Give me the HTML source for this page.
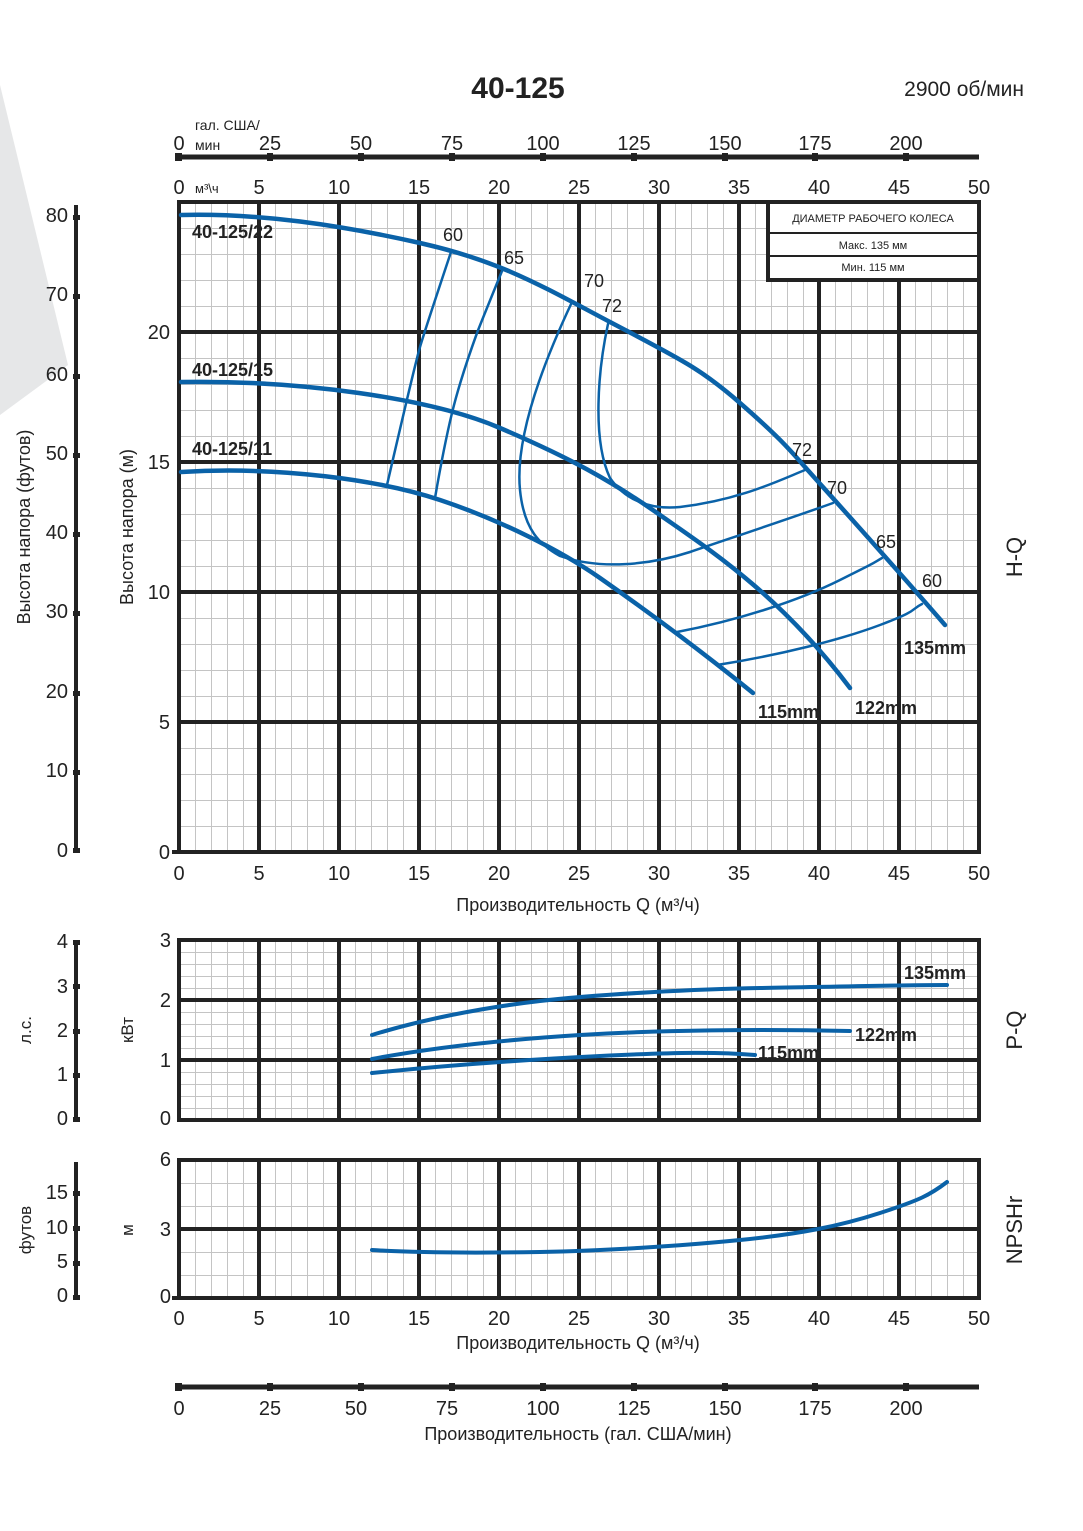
<!DOCTYPE html>
<html><head><meta charset="utf-8"><style>
html,body{margin:0;padding:0;background:#fff}
svg{display:block}
text{font-family:"Liberation Sans",sans-serif;fill:#222}
</style></head><body>
<svg width="1083" height="1531" viewBox="0 0 1083 1531" xmlns="http://www.w3.org/2000/svg">
<defs>
<pattern id="g1" x="179" y="202" width="16" height="26" patternUnits="userSpaceOnUse"><path d="M0 0V26M0 0H16" stroke="#c4c4c4" stroke-width="2" fill="none"/></pattern>
<pattern id="g2" x="179" y="940" width="16" height="12" patternUnits="userSpaceOnUse"><path d="M0 0V12M0 0H16" stroke="#c4c4c4" stroke-width="2" fill="none"/></pattern>
<pattern id="g3" x="179" y="1160" width="16" height="23" patternUnits="userSpaceOnUse"><path d="M0 0V23M0 0H16" stroke="#c4c4c4" stroke-width="2" fill="none"/></pattern>
</defs>
<polygon points="0,85 68,365 0,415" fill="#e6e7e8"/>

<text x="518" y="98" font-size="30" font-weight="bold" text-anchor="middle">40-125</text>
<text x="1024" y="96" font-size="21" text-anchor="end">2900 об/мин</text>

<g stroke="#222" stroke-width="5" fill="#222">
<line x1="176" y1="157" x2="979" y2="157"/>
<line x1="176" y1="1387" x2="979" y2="1387"/>
</g>
<g fill="#222">
<rect x="175" y="153" width="7" height="8"/><rect x="267" y="153" width="6" height="8"/><rect x="358" y="153" width="6" height="8"/><rect x="449" y="153" width="6" height="8"/><rect x="540" y="153" width="6" height="8"/><rect x="631" y="153" width="6" height="8"/><rect x="722" y="153" width="6" height="8"/><rect x="812" y="153" width="6" height="8"/><rect x="903" y="153" width="6" height="8"/>
<rect x="175" y="1383" width="7" height="8"/><rect x="267" y="1383" width="6" height="8"/><rect x="358" y="1383" width="6" height="8"/><rect x="449" y="1383" width="6" height="8"/><rect x="540" y="1383" width="6" height="8"/><rect x="631" y="1383" width="6" height="8"/><rect x="722" y="1383" width="6" height="8"/><rect x="812" y="1383" width="6" height="8"/><rect x="903" y="1383" width="6" height="8"/>
</g>
<g font-size="20" text-anchor="middle">
<text x="179" y="150">0</text><text x="270" y="150">25</text><text x="361" y="150">50</text><text x="452" y="150">75</text><text x="543" y="150">100</text><text x="634" y="150">125</text><text x="725" y="150">150</text><text x="815" y="150">175</text><text x="906" y="150">200</text>
<text x="179" y="1415">0</text><text x="270" y="1415">25</text><text x="356" y="1415">50</text><text x="447" y="1415">75</text><text x="543" y="1415">100</text><text x="634" y="1415">125</text><text x="725" y="1415">150</text><text x="815" y="1415">175</text><text x="906" y="1415">200</text>
</g>
<text x="195" y="130" font-size="14">гал. США/</text>
<text x="195" y="150" font-size="14">мин</text>
<text x="195" y="193" font-size="13">м³\ч</text>
<g font-size="20" text-anchor="middle">
<text x="179" y="194">0</text><text x="259" y="194">5</text><text x="339" y="194">10</text><text x="419" y="194">15</text><text x="499" y="194">20</text><text x="579" y="194">25</text><text x="659" y="194">30</text><text x="739" y="194">35</text><text x="819" y="194">40</text><text x="899" y="194">45</text><text x="979" y="194">50</text>
</g>

<rect x="179" y="202" width="800" height="650" fill="url(#g1)"/>
<g stroke="#222" stroke-width="4">
<path d="M179 200V854M259 202V852M339 202V852M419 202V852M499 202V852M579 202V852M659 202V852M739 202V852M819 202V852M899 202V852M979 202V854"/>
<path d="M177 202H981M177 332H981M177 462H981M177 592H981M177 722H981M172 852H981"/>
</g>
<rect x="768" y="202" width="211" height="78" fill="#fff" stroke="#222" stroke-width="4"/>
<path d="M770 233H977M770 256H977" stroke="#222" stroke-width="2"/>
<text x="873" y="222" font-size="11" text-anchor="middle">ДИАМЕТР РАБОЧЕГО КОЛЕСА</text>
<text x="873" y="249" font-size="11" text-anchor="middle">Макс. 135 мм</text>
<text x="873" y="271" font-size="11" text-anchor="middle">Мин. 115 мм</text>

<g fill="none" stroke="#0a62a8" stroke-linecap="round" stroke-linejoin="round">
<path stroke-width="4.5" d="M181 215 C260 213 340 225 420 243 S540 285 610 322 S700 368 740 403 S790 450 805 467 S880 550 945 625"/>
<path stroke-width="4.5" d="M181 382 C300 380 430 398 500 428 S610 480 660 515 S780 595 850 688"/>
<path stroke-width="4.5" d="M181 472 C280 466 380 480 440 500 S560 550 600 578 S700 650 753 693"/>
<path stroke-width="2.5" d="M451 252 Q425 330 420 347 T387 485"/>
<path stroke-width="2.5" d="M502 271 Q480 325 477 333 Q460 380 452 413 T435 498"/>
<path stroke-width="2.5" d="M572 302 C540 370 515 440 520 490 C524 530 540 545 560 556 C600 570 650 565 690 552 C740 535 800 515 833 503"/>
<path stroke-width="2.5" d="M608 324 C598 370 592 440 610 478 C625 500 650 510 680 507 C740 500 780 480 805 470"/>
<path stroke-width="2.5" d="M677 632 C740 620 800 600 840 580 S870 565 882 558"/>
<path stroke-width="2.5" d="M717 665 C780 655 840 640 880 625 S910 610 922 604"/>
</g>
<g font-size="18">
<text x="443" y="241">60</text><text x="504" y="264">65</text><text x="584" y="287">70</text><text x="602" y="312">72</text>
<text x="792" y="456">72</text><text x="827" y="494">70</text><text x="876" y="548">65</text><text x="922" y="587">60</text>
</g>
<g font-size="18" font-weight="bold">
<text x="192" y="238">40-125/22</text><text x="192" y="376">40-125/15</text><text x="192" y="455">40-125/11</text>
<text x="904" y="654">135mm</text><text x="855" y="714">122mm</text><text x="758" y="718">115mm</text>
</g>
<g font-size="20" text-anchor="end">
<text x="170" y="859">0</text><text x="170" y="729">5</text><text x="170" y="599">10</text><text x="170" y="469">15</text><text x="170" y="339">20</text>
</g>
<g font-size="20" text-anchor="middle">
<text x="179" y="880">0</text><text x="259" y="880">5</text><text x="339" y="880">10</text><text x="419" y="880">15</text><text x="499" y="880">20</text><text x="579" y="880">25</text><text x="659" y="880">30</text><text x="739" y="880">35</text><text x="819" y="880">40</text><text x="899" y="880">45</text><text x="979" y="880">50</text>
</g>
<text x="578" y="911" font-size="18" text-anchor="middle">Производительность Q (м³/ч)</text>
<text transform="translate(133,527) rotate(-90)" font-size="18" text-anchor="middle">Высота напора (м)</text>
<text transform="translate(30,527) rotate(-90)" font-size="18" text-anchor="middle">Высота напора (футов)</text>
<line x1="76" y1="205" x2="76" y2="852" stroke="#222" stroke-width="4"/>
<g fill="#222">
<rect x="73" y="215" width="7" height="5"/><rect x="73" y="294" width="7" height="5"/><rect x="73" y="374" width="7" height="5"/><rect x="73" y="453" width="7" height="5"/><rect x="73" y="532" width="7" height="5"/><rect x="73" y="611" width="7" height="5"/><rect x="73" y="691" width="7" height="5"/><rect x="73" y="770" width="7" height="5"/><rect x="73" y="848" width="7" height="5"/>
</g>
<g font-size="20" text-anchor="end">
<text x="68" y="222">80</text><text x="68" y="301">70</text><text x="68" y="381">60</text><text x="68" y="460">50</text><text x="68" y="539">40</text><text x="68" y="618">30</text><text x="68" y="698">20</text><text x="68" y="777">10</text><text x="68" y="857">0</text>
</g>
<text transform="translate(1022,557) rotate(-90)" font-size="22" text-anchor="middle">H-Q</text>

<rect x="179" y="940" width="800" height="180" fill="url(#g2)"/>
<g stroke="#222" stroke-width="4">
<path d="M179 940V1120M259 940V1120M339 940V1120M419 940V1120M499 940V1120M579 940V1120M659 940V1120M739 940V1120M819 940V1120M899 940V1120M979 940V1120"/>
<path d="M177 940H981M177 1000H981M177 1060H981M177 1120H981"/>
</g>
<g fill="none" stroke="#0a62a8" stroke-width="4" stroke-linecap="round">
<path d="M372 1035 C420 1020 480 1008 540 1001 S700 989 760 988 S900 985 947 985"/>
<path d="M372 1059 C430 1048 500 1040 580 1035 S760 1029 850 1031"/>
<path d="M372 1073 C440 1066 520 1060 600 1056 S720 1052 755 1055"/>
</g>
<g font-size="18" font-weight="bold">
<text x="904" y="979">135mm</text><text x="855" y="1041">122mm</text><text x="758" y="1059">115mm</text>
</g>
<g font-size="20" text-anchor="end">
<text x="171" y="947">3</text><text x="171" y="1007">2</text><text x="171" y="1067">1</text><text x="171" y="1125">0</text>
</g>
<line x1="76" y1="942" x2="76" y2="1120" stroke="#222" stroke-width="4"/>
<g fill="#222"><rect x="73" y="940" width="7" height="5"/><rect x="73" y="984" width="7" height="5"/><rect x="73" y="1029" width="7" height="5"/><rect x="73" y="1073" width="7" height="5"/><rect x="73" y="1117" width="7" height="5"/></g>
<g font-size="20" text-anchor="end">
<text x="68" y="948">4</text><text x="68" y="993">3</text><text x="68" y="1037">2</text><text x="68" y="1081">1</text><text x="68" y="1125">0</text>
</g>
<text transform="translate(31,1030) rotate(-90)" font-size="17" text-anchor="middle">л.с.</text>
<text transform="translate(133,1030) rotate(-90)" font-size="17" text-anchor="middle">кВт</text>
<text transform="translate(1022,1030) rotate(-90)" font-size="22" text-anchor="middle">P-Q</text>

<rect x="179" y="1160" width="800" height="138" fill="url(#g3)"/>
<g stroke="#222" stroke-width="4">
<path d="M179 1160V1298M259 1160V1298M339 1160V1298M419 1160V1298M499 1160V1298M579 1160V1298M659 1160V1298M739 1160V1298M819 1160V1298M899 1160V1298M979 1160V1298"/>
<path d="M177 1160H981M177 1229H981M172 1298H981"/>
</g>
<path d="M372 1250 C420 1253 480 1253 540 1252 S680 1246 740 1240 S840 1226 880 1213 S930 1195 947 1182" fill="none" stroke="#0a62a8" stroke-width="4" stroke-linecap="round"/>
<g font-size="20" text-anchor="end">
<text x="171" y="1166">6</text><text x="171" y="1236">3</text><text x="171" y="1303">0</text>
</g>
<line x1="76" y1="1162" x2="76" y2="1298" stroke="#222" stroke-width="4"/>
<g fill="#222"><rect x="73" y="1191" width="7" height="5"/><rect x="73" y="1226" width="7" height="5"/><rect x="73" y="1261" width="7" height="5"/><rect x="73" y="1295" width="7" height="5"/></g>
<g font-size="20" text-anchor="end">
<text x="68" y="1199">15</text><text x="68" y="1234">10</text><text x="68" y="1268">5</text><text x="68" y="1302">0</text>
</g>
<text transform="translate(31,1230) rotate(-90)" font-size="17" text-anchor="middle">футов</text>
<text transform="translate(133,1230) rotate(-90)" font-size="17" text-anchor="middle">м</text>
<text transform="translate(1022,1230) rotate(-90)" font-size="22" text-anchor="middle">NPSHr</text>
<g font-size="20" text-anchor="middle">
<text x="179" y="1325">0</text><text x="259" y="1325">5</text><text x="339" y="1325">10</text><text x="419" y="1325">15</text><text x="499" y="1325">20</text><text x="579" y="1325">25</text><text x="659" y="1325">30</text><text x="739" y="1325">35</text><text x="819" y="1325">40</text><text x="899" y="1325">45</text><text x="979" y="1325">50</text>
</g>
<text x="578" y="1349" font-size="18" text-anchor="middle">Производительность Q (м³/ч)</text>
<text x="578" y="1440" font-size="18" text-anchor="middle">Производительность (гал. США/мин)</text>
</svg>
</body></html>
